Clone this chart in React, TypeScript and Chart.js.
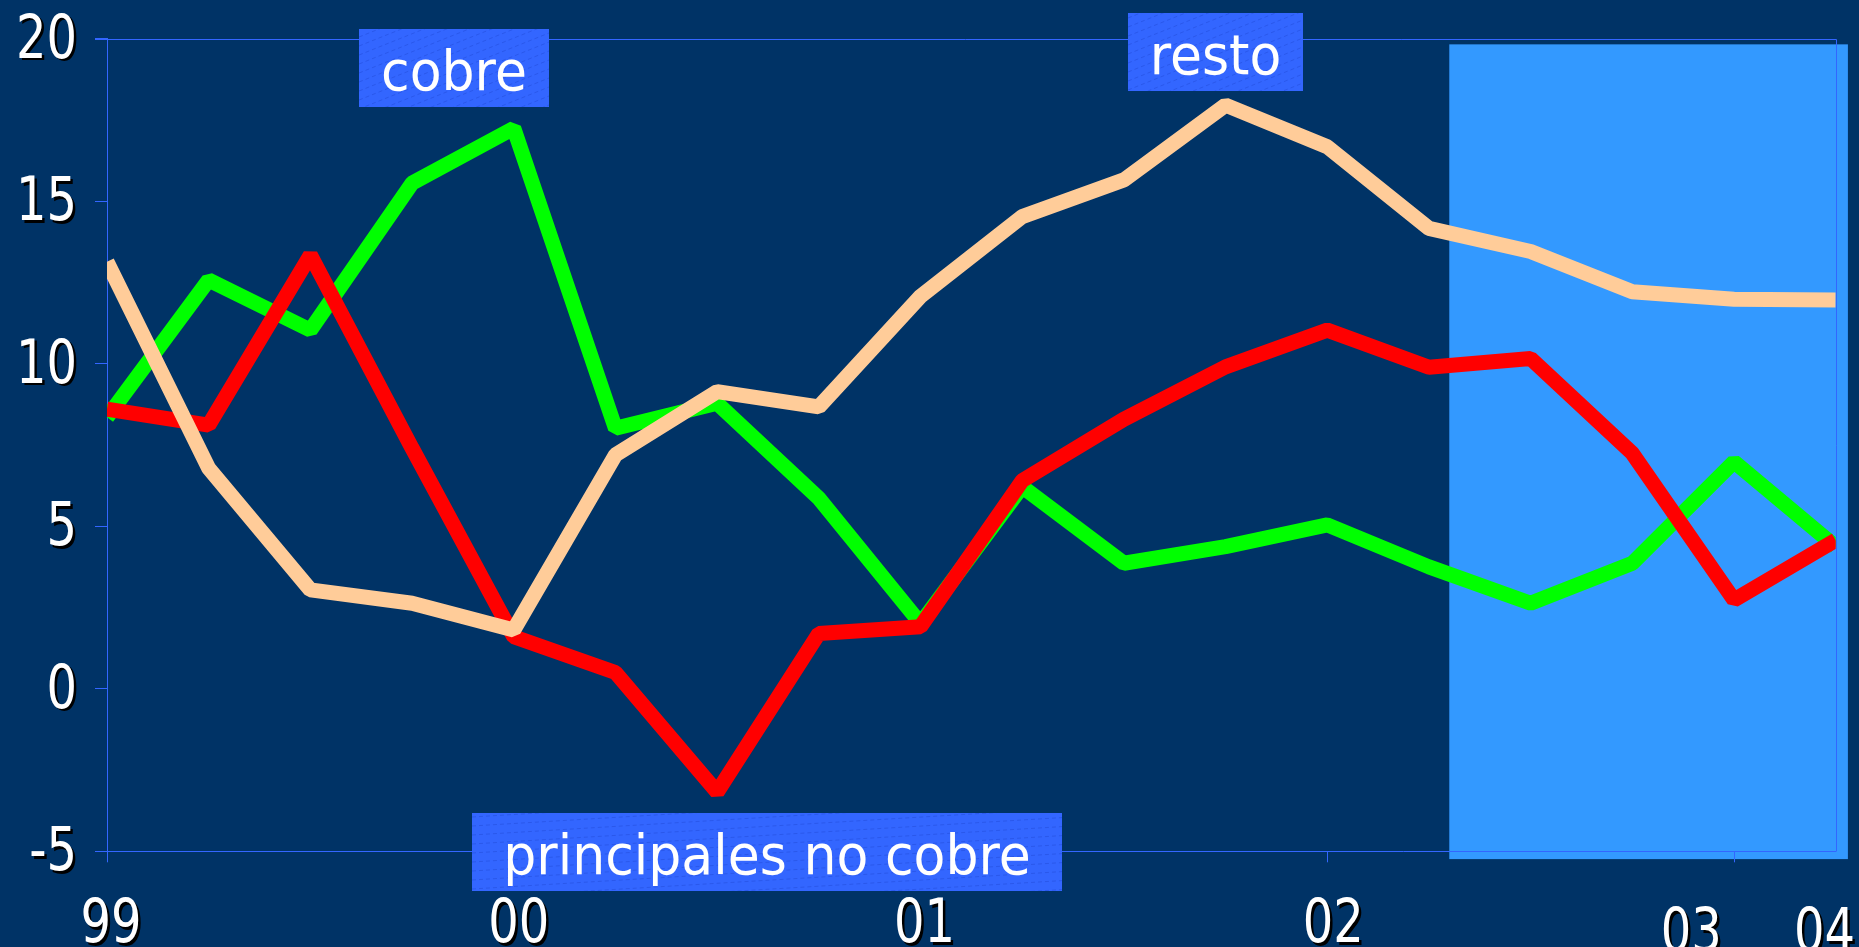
import React, { useEffect, useRef } from 'react';
import { Chart, registerables } from 'chart.js';

Chart.register(...registerables);

// ---- data ----
const quarters = ['99T1', '99T2', '99T3', '99T4', '00T1', '00T2', '00T3', '00T4', '01T1', '01T2', '01T3', '01T4', '02T1', '02T2', '02T3', '02T4', '03T1', '03T2'];
const cobre = [8.35, 12.57, 11.03, 15.55, 17.24, 8.01, 8.78, 5.86, 2.01, 6.21, 3.86, 4.37, 5.04, 3.75, 2.63, 3.86, 6.98, 4.37];
const principalesNoCobre = [8.6, 8.11, 13.34, 7.4, 1.6, 0.5, -3.18, 1.7, 1.91, 6.4, 8.29, 9.9, 11.03, 9.89, 10.16, 7.24, 2.73, 4.57];
const resto = [13.13, 6.78, 3.04, 2.63, 1.81, 7.19, 9.14, 8.67, 12.07, 14.52, 15.65, 17.95, 16.67, 14.16, 13.45, 12.21, 11.98, 11.96];
const seriesNames = ['cobre', 'principales no cobre', 'resto'];
const yMin = -5;
const yMax = 20;
const yStep = 5;
const xTickIndexes = [0, 4, 8, 12, 16];
const xTickLabels = ['99', '00', '01', '02', '03', '04'];

// ---- layout / style (not data) ----
const W = 1859;
const H = 947;
const BG = '#003366';
const AXIS = '#3366FF';
const FORECAST = '#3399FF';
const LABEL_BOX = '#3366FF';
const xLabelAt = [0.04, 4.05, 8.04, 12.06, 15.58, 16.89];
const xLabelDrop = [0, 0, 0, 0, 9, 9];
const forecastRegion = { x0: 13.2, x1: 17.12, yTop: 19.82, yBottom: -5.24 };
const labelBoxes = [
  { text: 'cobre', x: 359, y: 29, w: 190, h: 78, slope: -0.4 },
  { text: 'resto', x: 1128, y: 13, w: 175, h: 78, slope: -0.4 },
  { text: 'principales no cobre', x: 472, y: 813, w: 590, h: 78, slope: -0.06 },
];

function drawText(ctx: CanvasRenderingContext2D, text: string, x: number, y: number, size: number, sx: number, align: CanvasTextAlign, shadow: boolean) {
  ctx.save();
  ctx.font = `${size}px "DejaVu Sans"`;
  ctx.textBaseline = 'alphabetic';
  ctx.textAlign = align;
  ctx.translate(x, y);
  ctx.scale(sx, 1);
  if (shadow) {
    ctx.fillStyle = '#000000';
    ctx.fillText(text, 2.5 / sx, 2.5);
  }
  ctx.fillStyle = '#FFFFFF';
  ctx.fillText(text, 0, 0);
  ctx.restore();
}

const slidePlugin = {
  id: 'slide',
  beforeDraw(chart: any) {
    const { ctx } = chart;
    const xs = chart.scales.x;
    const ys = chart.scales.y;
    ctx.save();
    ctx.fillStyle = BG;
    ctx.fillRect(0, 0, chart.width, chart.height);
    const l = xs.getPixelForValue(forecastRegion.x0);
    const r = xs.getPixelForValue(forecastRegion.x1);
    const t = ys.getPixelForValue(forecastRegion.yTop);
    const b = ys.getPixelForValue(forecastRegion.yBottom);
    ctx.fillStyle = FORECAST;
    ctx.fillRect(l, t, r - l, b - t);
    ctx.restore();
  },
  beforeDatasetsDraw(chart: any) {
    const { ctx, chartArea } = chart;
    ctx.save();
    ctx.strokeStyle = AXIS;
    ctx.lineWidth = 1;
    ctx.beginPath();
    ctx.moveTo(chartArea.left - 12, Math.round(chartArea.top) + 0.5);
    ctx.lineTo(Math.round(chartArea.right) + 0.5, Math.round(chartArea.top) + 0.5);
    ctx.lineTo(Math.round(chartArea.right) + 0.5, Math.round(chartArea.bottom) + 0.5);
    ctx.stroke();
    ctx.restore();
  },
  afterDraw(chart: any) {
    const { ctx } = chart;
    const xs = chart.scales.x;
    const ys = chart.scales.y;
    // y labels
    for (let v = yMin; v <= yMax; v += yStep) {
      const py = ys.getPixelForValue(v);
      drawText(ctx, String(v), 77, py + 19, 60, 0.8, 'right', true);
    }
    // x labels
    xTickLabels.forEach((lab, i) => {
      const px = xs.getPixelForValue(xLabelAt[i]);
      drawText(ctx, lab, px, 942 + xLabelDrop[i], 60, 0.8, 'center', true);
    });
    // label boxes
    labelBoxes.forEach((bx) => {
      ctx.save();
      ctx.fillStyle = LABEL_BOX;
      ctx.fillRect(bx.x, bx.y, bx.w, bx.h);
      ctx.beginPath();
      ctx.rect(bx.x, bx.y, bx.w, bx.h);
      ctx.clip();
      ctx.strokeStyle = 'rgba(30, 70, 210, 0.45)';
      ctx.lineWidth = 1;
      ctx.setLineDash([4, 3]);
      for (let k = -bx.w; k < bx.h + bx.w; k += 9) {
        ctx.beginPath();
        ctx.moveTo(bx.x, bx.y + k);
        ctx.lineTo(bx.x + bx.w, bx.y + k + bx.slope * bx.w);
        ctx.stroke();
      }
      ctx.restore();
      drawText(ctx, bx.text, bx.x + bx.w / 2, bx.y + 61, 56, 0.93, 'center', false);
    });
  },
};

export default function App() {
  const canvasRef = useRef<HTMLCanvasElement | null>(null);

  useEffect(() => {
    const canvas = canvasRef.current;
    if (!canvas) return;
    const mk = (vals: number[]) => vals.map((v, i) => ({ x: i, y: v, q: quarters[i] }));
    const chart = new Chart(canvas, {
      type: 'line',
      data: {
        datasets: [
          { label: seriesNames[0], data: mk(cobre), borderColor: '#00FF00', backgroundColor: '#00FF00', borderWidth: 15, pointRadius: 0, tension: 0, borderJoinStyle: 'bevel', order: 2 },
          { label: seriesNames[1], data: mk(principalesNoCobre), borderColor: '#FF0000', backgroundColor: '#FF0000', borderWidth: 15, pointRadius: 0, tension: 0, borderJoinStyle: 'bevel', order: 1 },
          { label: seriesNames[2], data: mk(resto), borderColor: '#FFCC99', backgroundColor: '#FFCC99', borderWidth: 15, pointRadius: 0, tension: 0, borderJoinStyle: 'bevel', order: 0 },
        ],
      },
      options: {
        animation: false,
        responsive: false,
        devicePixelRatio: 1,
        layout: { padding: { top: 38.5, right: 23.3, left: 0, bottom: 0 } },
        plugins: { legend: { display: false }, tooltip: { enabled: false } },
        scales: {
          x: {
            type: 'linear',
            min: 0,
            max: quarters.length - 1,
            afterBuildTicks: (s: any) => {
              s.ticks = xTickIndexes.map((v) => ({ value: v }));
            },
            afterFit: (s: any) => {
              s.height = 95.7;
            },
            ticks: { display: false },
            grid: { drawOnChartArea: false, drawTicks: true, tickLength: 11, color: AXIS, lineWidth: 1 },
            border: { display: true, color: AXIS, width: 1 },
          },
          y: {
            type: 'linear',
            min: yMin,
            max: yMax,
            ticks: { display: false, stepSize: yStep },
            afterFit: (s: any) => {
              s.width = 107;
            },
            grid: { drawOnChartArea: false, drawTicks: true, tickLength: 12, color: AXIS, lineWidth: 1 },
            border: { display: true, color: AXIS, width: 1 },
          },
        },
      } as any,
      plugins: [slidePlugin],
    });
    return () => chart.destroy();
  }, []);

  return (
    <div style={{ position: 'fixed', left: 0, top: 0, width: W, height: H, background: BG }}>
      <canvas ref={canvasRef} width={W} height={H} style={{ display: 'block', width: W, height: H }} />
    </div>
  );
}
